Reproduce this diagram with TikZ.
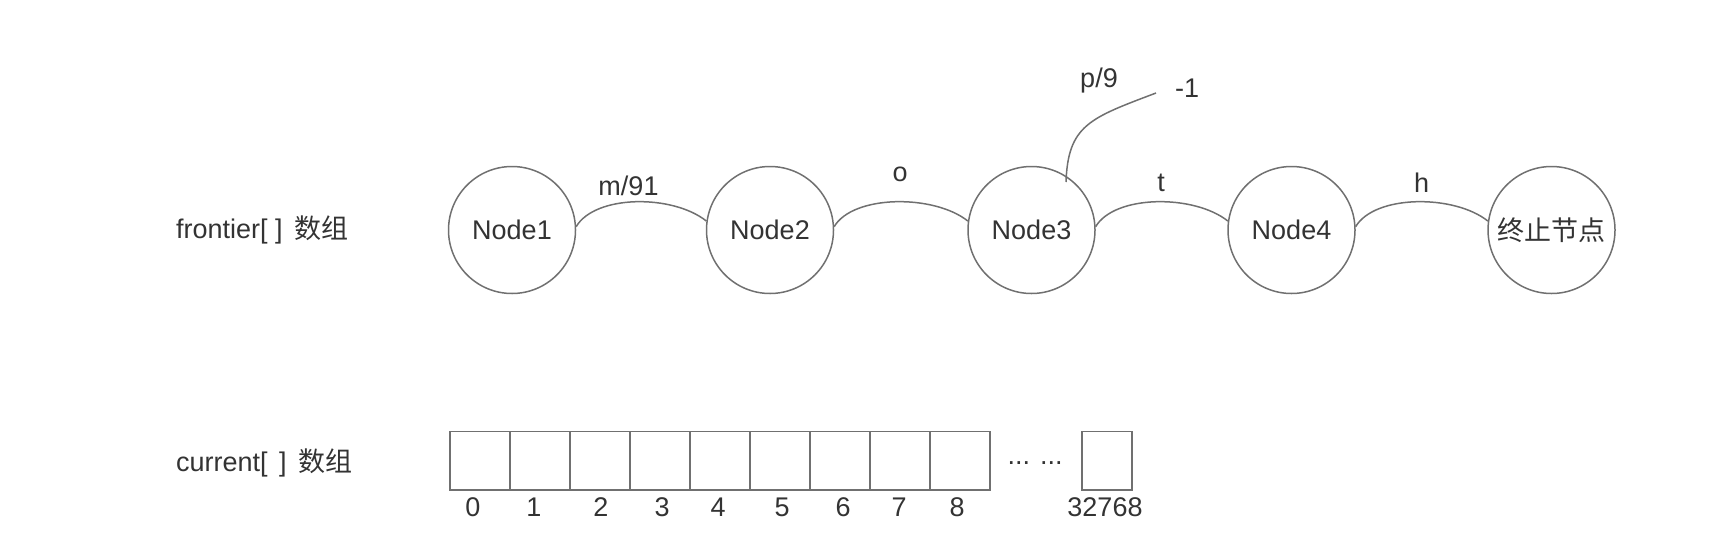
\documentclass[tikz,border=0pt]{standalone}
\usepackage{fontspec}
\setmainfont{Liberation Sans}
\newfontfamily\cjk{Noto Sans CJK SC}
\definecolor{ln}{HTML}{707070}
\definecolor{tx}{HTML}{333333}
\begin{document}
\begin{tikzpicture}[x=1pt,y=-1pt,
  every node/.style={font=\fontsize{27}{32}\selectfont, text=tx},
  st/.style={circle, draw=ln, line width=1.5pt, minimum size=127pt, inner sep=0pt},
  edge/.style={draw=ln, line width=1.5pt},
  cell/.style={draw=ln, line width=1.8pt, minimum width=60pt, minimum height=58.5pt, inner sep=0pt, anchor=north west},
  lbl/.style={inner sep=0pt}]
\useasboundingbox (0,0) rectangle (1726,536);
% left labels
\node[lbl, anchor=west] (fr) at (176,230) {frontier[ ]\hspace{4pt} {\cjk 数组}};
\node[lbl, anchor=west] (cu) at (176,463) {current[\hspace{4pt} ]\hspace{4pt} {\cjk 数组}};
% states
\node[st] (n1) at (512,230) {Node1};
\node[st] (n2) at (770,230) {Node2};
\node[st] (n3) at (1031.5,230) {Node3};
\node[st] (n4) at (1291.5,230) {Node4};
\node[st] (n5) at (1551.5,230) {{\cjk 终止节点}};
% edges
\draw[edge] (n1.3) .. controls +(19,-32) and +(-34,-27) .. (n2.172);
\draw[edge] (n2.3) .. controls +(19,-32) and +(-34,-27) .. (n3.172);
\draw[edge] (n3.3) .. controls +(19,-32) and +(-34,-27) .. (n4.172);
\draw[edge] (n4.3) .. controls +(19,-32) and +(-34,-27) .. (n5.172);
\node[lbl] (l1) at (628.5,186) {m/91};
\node[lbl] (l2) at (900,174) {o};
\node[lbl] (l3) at (1161,183) {t};
\node[lbl] (l4) at (1421.5,183) {h};
% branch from Node3
\coordinate (e1) at (1156,93);
\draw[edge] ([shift={(34.5,-48)}]n3.center) .. controls +(2,-57) and +(-66,25) .. (e1);
\node[lbl] (l5) at (1099,81) {p/9};
\node[lbl] (l6) at (1187,88) {-1};
% current array
\foreach \i/\x in {0/449,1/509,2/569,3/629,4/689,5/749,6/809,7/869,8/929}{
  \node[cell] (c\i) at (\x,430.5) {};
}
\node[cell, minimum width=50pt] (cl) at (1081,430.5) {};
\node[lbl] (dots) at (1035,463) {... ...};
\foreach \i/\x in {0/473,1/534,2/601,3/662,4/718,5/782,6/843,7/899,8/957}{
  \node[lbl] (t\i) at (\x,507) {\i};
}
\node[lbl] (tl) at (1105,507) {32768};
\end{tikzpicture}
\end{document}
